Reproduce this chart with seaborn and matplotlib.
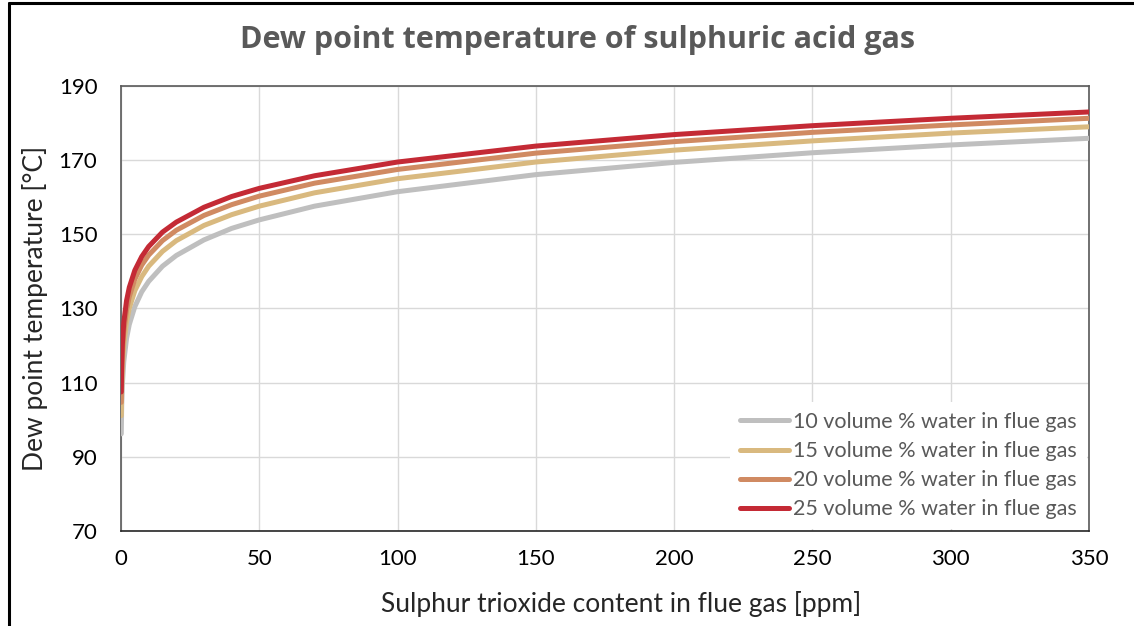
import matplotlib
matplotlib.use("Agg")
import matplotlib.pyplot as plt
import seaborn as sns
import pandas as pd
from matplotlib.lines import Line2D

# SO3 content [ppm] and dew points [°C]
so3_ppm = [0.1, 0.25, 0.5, 1, 2, 3, 5, 7.5, 10, 15, 20, 30, 40, 50, 70,
           100, 150, 200, 250, 300, 350]
dew_10 = [96.2, 103.7, 109.6, 115.6, 121.9, 125.7, 130.5, 134.5, 137.3, 141.4, 144.3,
          148.5, 151.6, 153.9, 157.6, 161.5, 166.1, 169.4, 172.0, 174.1, 175.9]
dew_15 = [101.1, 108.5, 114.3, 120.2, 126.4, 130.1, 134.8, 138.6, 141.4, 145.4, 148.3,
          152.4, 155.3, 157.6, 161.2, 165.0, 169.5, 172.7, 175.2, 177.3, 179.0]
dew_20 = [104.7, 112.0, 117.7, 123.6, 129.6, 133.2, 137.9, 141.7, 144.4, 148.3, 151.1,
          155.1, 158.0, 160.3, 163.8, 167.5, 171.9, 175.0, 177.5, 179.5, 181.3]
dew_25 = [107.5, 114.7, 120.4, 126.2, 132.1, 135.7, 140.3, 144.0, 146.7, 150.6, 153.3,
          157.3, 160.2, 162.4, 165.8, 169.5, 173.8, 176.9, 179.3, 181.3, 183.0]

labels = ["10 volume % water in flue gas", "15 volume % water in flue gas",
          "20 volume % water in flue gas", "25 volume % water in flue gas"]
colors = ["#bfbfbf", "#d9b97f", "#d08a62", "#c42a35"]

frames = []
for lab, vals in zip(labels, [dew_10, dew_15, dew_20, dew_25]):
    frames.append(pd.DataFrame({"ppm": so3_ppm, "dew": vals, "series": lab}))
df = pd.concat(frames, ignore_index=True)

sns.set_style("white")
plt.rcParams["font.family"] = ["Lato", "DejaVu Sans"]

fig = plt.figure(figsize=(11.34, 6.26), dpi=100)
ax = fig.add_axes([0.1067, 0.1518, 0.8536, 0.7108])

sns.lineplot(data=df, x="ppm", y="dew", hue="series", palette=colors,
             linewidth=3.6, sort=False, ax=ax, zorder=3)

ax.set_xlim(0, 350)
ax.set_ylim(70, 190)
ax.set_xticks(range(0, 351, 50))
ax.set_yticks(range(70, 191, 20))
ax.grid(True, color="#d9d9d9", linewidth=1)
ax.set_axisbelow(True)
ax.tick_params(axis="both", length=0, labelsize=16, colors="black")
ax.tick_params(axis="y", pad=17)
ax.tick_params(axis="x", pad=13)
for side in ["left", "top", "right"]:
    ax.spines[side].set_color("#595959")
    ax.spines[side].set_linewidth(1.2)
ax.spines["bottom"].set_color("#262626")
ax.spines["bottom"].set_linewidth(1.2)

ax.set_xlabel("Sulphur trioxide content in flue gas [ppm]", fontsize=19)
ax.xaxis.set_label_coords(0.517, -0.135)
ax.set_ylabel("Dew point temperature [°C]", fontsize=19, labelpad=8)
fig.text(0.509, 0.936, "Dew point temperature of sulphuric acid gas", fontsize=22,
         fontweight="bold", color="#595959", ha="center", va="center",
         family=["Open Sans", "DejaVu Sans"])

leg = ax.legend(loc="lower right", borderaxespad=0.1, frameon=True,
                fontsize=15.5, handlelength=2.3, handletextpad=0.2,
                labelspacing=0.42, borderpad=0.45)
leg.get_frame().set_facecolor("white")
leg.get_frame().set_edgecolor("none")
leg.get_frame().set_alpha(1)
leg.set_zorder(5)
for t in leg.get_texts():
    t.set_color("#595959")
for h in leg.get_lines():
    h.set_linewidth(3.6)

# outer frame (top and left edges)
fig.add_artist(Line2D([0.0075, 1.0], [0.9952, 0.9952], color="black", linewidth=2.2,
                      transform=fig.transFigure))
fig.add_artist(Line2D([0.0075, 0.0075], [0.0, 0.9952], color="black", linewidth=2.2,
                      transform=fig.transFigure))

fig.savefig("out.png", dpi=100)
